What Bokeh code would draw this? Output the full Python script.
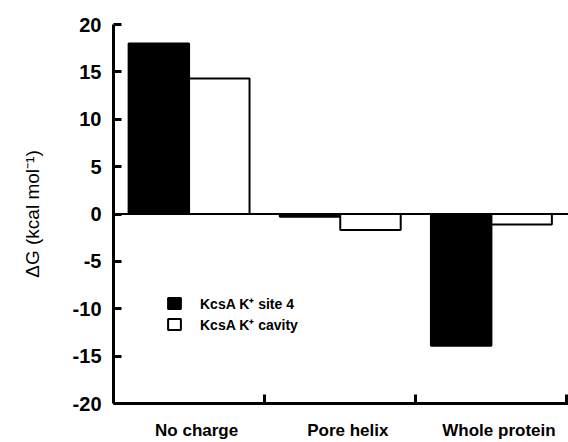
from bokeh.plotting import figure
from bokeh.models import FixedTicker, Span, Legend, LegendItem, ColumnDataSource
from bokeh.transform import dodge
from bokeh.embed import file_html
from bokeh.resources import INLINE

categories = ["No charge", "Pore helix", "Whole protein"]
site4 = [18.0, -0.3, -13.9]
cavity = [14.3, -1.7, -1.1]
series_labels = ["KcsA K\u207a site 4", "KcsA K\u207a cavity"]
y_ticks = [-20, -15, -10, -5, 0, 5, 10, 15, 20]
y_label = "\u0394G (kcal mol\u207b\u00b9)"

n = len(categories)
centers = [i + 0.5 for i in range(n)]
bounds = [i + 1 for i in range(n)]
src = ColumnDataSource(dict(x=centers, site4=site4, cavity=cavity))

FONT = "Liberation Sans"
label_shift = 0.05  # category labels sit slightly right of the bar pair centres

p = figure(width=568, height=442, x_range=(0, n + 0.01), y_range=(-20, 20),
           output_backend="svg", toolbar_location=None,
           min_border_left=113, min_border_right=0, min_border_top=24, min_border_bottom=33)
p.outline_line_color = None
p.xgrid.visible = False
p.ygrid.visible = False
p.background_fill_color = "white"
p.border_fill_color = "white"

bw = 0.4
r1 = p.vbar(x=dodge("x", -bw / 2), top="site4", bottom=0, width=bw, source=src,
            fill_color="black", line_color="black", line_width=2)
r2 = p.vbar(x=dodge("x", bw / 2), top="cavity", bottom=0, width=bw, source=src,
            fill_color="white", line_color="black", line_width=2)

p.add_layout(Span(location=0, dimension="width", line_color="black", line_width=2))

# y axis
ya = p.yaxis[0]
ya.ticker = FixedTicker(ticks=y_ticks)
ya.major_label_overrides = {t: str(t) for t in y_ticks}
ya.axis_line_color = "black"
ya.axis_line_width = 3
ya.major_tick_line_color = "black"
ya.major_tick_line_width = 3
ya.major_tick_in = 8
ya.major_tick_out = 0
ya.minor_tick_line_color = None
ya.major_label_text_font = FONT
ya.major_label_text_font_style = "bold"
ya.major_label_text_font_size = "20px"
ya.major_label_text_color = "black"
ya.major_label_standoff = 12
ya.axis_label = y_label
ya.axis_label_text_font = FONT
ya.axis_label_text_font_style = "normal"
ya.axis_label_text_font_size = "19px"
ya.axis_label_text_color = "black"
ya.axis_label_standoff = 27

# x axis
xa = p.xaxis[0]
label_pos = [c + label_shift for c in centers]
xa.ticker = FixedTicker(ticks=label_pos, minor_ticks=bounds)
xa.major_label_overrides = {c: lab for c, lab in zip(label_pos, categories)}
xa.axis_line_color = "black"
xa.axis_line_width = 3
xa.major_tick_line_color = None
xa.minor_tick_line_color = "black"
xa.minor_tick_line_width = 3
xa.minor_tick_in = 9
xa.minor_tick_out = 0
xa.major_label_text_font = FONT
xa.major_label_text_font_style = "bold"
xa.major_label_text_font_size = "17px"
xa.major_label_text_color = "black"
xa.major_label_standoff = 11

legend = Legend(items=[LegendItem(label=series_labels[0], renderers=[r1]),
                       LegendItem(label=series_labels[1], renderers=[r2])],
                location=(53, 69), padding=0, margin=0, spacing=1,
                glyph_width=16, glyph_height=14, label_height=20, label_standoff=18,
                label_text_font=FONT, label_text_font_style="bold", label_text_font_size="14px",
                label_text_color="black",
                background_fill_alpha=0, border_line_color=None)
p.add_layout(legend)

open("out.html", "w").write(file_html(p, INLINE))
